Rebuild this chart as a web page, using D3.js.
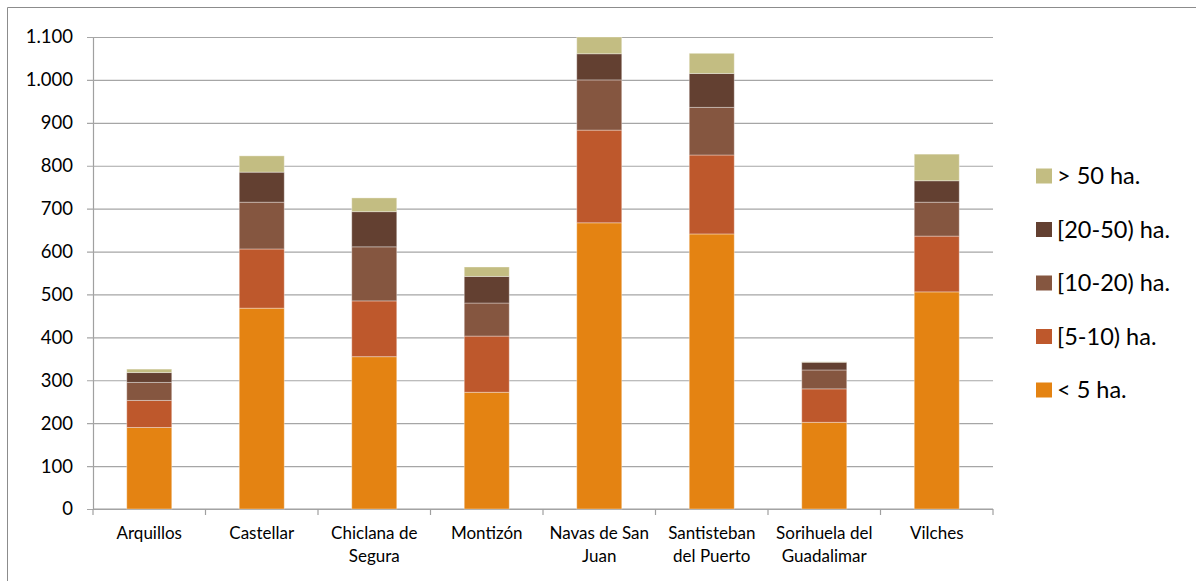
<!DOCTYPE html>
<html>
<head>
<meta charset="utf-8">
<script src="https://cdn.jsdelivr.net/npm/d3@7"></script>
<style>
  html, body { margin: 0; padding: 0; background: #fff; }
  svg { display: block; }
</style>
</head>
<body>
<svg id="chart" width="1196" height="581"></svg>
<script>
const categories = ["Arquillos", "Castellar", "Chiclana de Segura", "Montizón", "Navas de San Juan", "Santisteban del Puerto", "Sorihuela del Guadalimar", "Vilches"];
const seriesNames = ["< 5 ha.", "[5-10) ha.", "[10-20) ha.", "[20-50) ha.", "> 50 ha."];
const lt5   = [190, 468, 355, 272, 667, 641, 202, 506];
const s5_10 = [63, 138, 130, 131, 216, 184, 78, 130];
const s10_20 = [42, 109, 126, 77, 117, 111, 44, 79];
const s20_50 = [23, 70, 82, 62, 61, 79, 18, 50];
const gt50  = [8, 38, 32, 22, 39, 47, 1, 62];
const yTicks = [0, 100, 200, 300, 400, 500, 600, 700, 800, 900, 1000, 1100];
const colors = ["#E48312", "#BE582C", "#855640", "#634031", "#C3BD82"];

const seriesValues = [lt5, s5_10, s10_20, s20_50, gt50];
const rows = categories.map((c, i) => {
  const r = { cat: c };
  seriesNames.forEach((s, k) => r[s] = seriesValues[k][i]);
  return r;
});

const svg = d3.select("#chart");
const pLeft = 93, pRight = 993, pTop = 37, pBottom = 509;

const x = d3.scaleBand().domain(categories).range([pLeft, pRight]).paddingInner(0.6).paddingOuter(0.3);
const y = d3.scaleLinear().domain([0, 1100]).range([pBottom, pTop]);

const fmt = d3.formatLocale({ decimal: ",", thousands: ".", grouping: [3], currency: ["", "€"] }).format(",");

// frame
svg.append("line").attr("x1", 7.5).attr("x2", 1196).attr("y1", 7.5).attr("y2", 7.5).attr("stroke", "#8c8c8c").attr("stroke-width", 1);
svg.append("line").attr("x1", 7.5).attr("x2", 7.5).attr("y1", 7.5).attr("y2", 581).attr("stroke", "#8c8c8c").attr("stroke-width", 1);

// gridlines + y axis
const yAxis = d3.axisLeft(y).tickValues(yTicks).tickFormat(fmt).tickSize(-(pRight - pLeft)).tickSizeOuter(0).tickPadding(20);
const gy = svg.append("g").attr("transform", `translate(${pLeft},0)`).call(yAxis);
gy.select(".domain").attr("stroke", "#a0a0a0").attr("stroke-width", 1.2);
gy.selectAll(".tick line").attr("stroke", "#a6a6a6").attr("stroke-width", 1.2).attr("x1", -6);
gy.selectAll(".tick text").attr("font-family", "Lato, 'Open Sans', sans-serif").attr("font-size", 18.5).attr("fill", "#000");

// x axis
const xEdges = d3.range(categories.length + 1).map(i => pLeft + i * x.step());
const gx = svg.append("g");
gx.append("line").attr("x1", pLeft).attr("x2", pRight).attr("y1", y(0)).attr("y2", y(0)).attr("stroke", "#a0a0a0").attr("stroke-width", 1.2);
gx.selectAll("line.tk").data(xEdges).join("line").attr("class", "tk")
  .attr("x1", d => d).attr("x2", d => d).attr("y1", y(0)).attr("y2", y(0) + 6)
  .attr("stroke", "#a0a0a0").attr("stroke-width", 1.2);

// bars
const stack = d3.stack().keys(seriesNames);
const stacked = stack(rows);
svg.append("g").selectAll("g").data(stacked).join("g")
  .attr("fill", (d, i) => colors[i])
  .selectAll("rect").data(d => d).join("rect")
  .attr("x", d => x(d.data.cat))
  .attr("width", x.bandwidth())
  .attr("y", d => y(d[1]))
  .attr("height", d => y(d[0]) - y(d[1]))
  .attr("stroke", "#ffffff").attr("stroke-opacity", 0.35).attr("stroke-width", 1);

// x labels with wrapping
const labels = svg.append("g");
categories.forEach(c => {
  const cx = x(c) + x.bandwidth() / 2;
  const t = labels.append("text")
    .attr("x", cx)
    .attr("y", 539)
    .attr("text-anchor", "middle")
    .attr("font-family", "Lato, 'Open Sans', sans-serif")
    .attr("font-size", 17)
    .attr("fill", "#000");
  const words = c.split(" ");
  let line = [];
  let tspan = t.append("tspan").attr("x", cx).attr("dy", 0);
  words.forEach(w => {
    line.push(w);
    tspan.text(line.join(" "));
    if (tspan.node().getComputedTextLength() > 104 && line.length > 1) {
      line.pop();
      tspan.text(line.join(" "));
      line = [w];
      tspan = t.append("tspan").attr("x", cx).attr("dy", 23).text(w);
    }
  });
});

// legend (top to bottom: > 50 ... < 5)
const legendOrder = seriesNames.map((s, i) => ({ s, c: colors[i] })).reverse();
const lg = svg.append("g");
legendOrder.forEach((d, i) => {
  const cy = 176 + i * 53.5;
  lg.append("rect").attr("x", 1036).attr("y", cy - 7.5).attr("width", 16).attr("height", 15).attr("fill", d.c);
  lg.append("text").attr("x", 1057).attr("y", cy).attr("dy", "0.36em")
    .attr("font-family", "Lato, 'Open Sans', sans-serif").attr("font-size", 23.5).attr("fill", "#000")
    .text(d.s);
});
</script>
</body>
</html>
